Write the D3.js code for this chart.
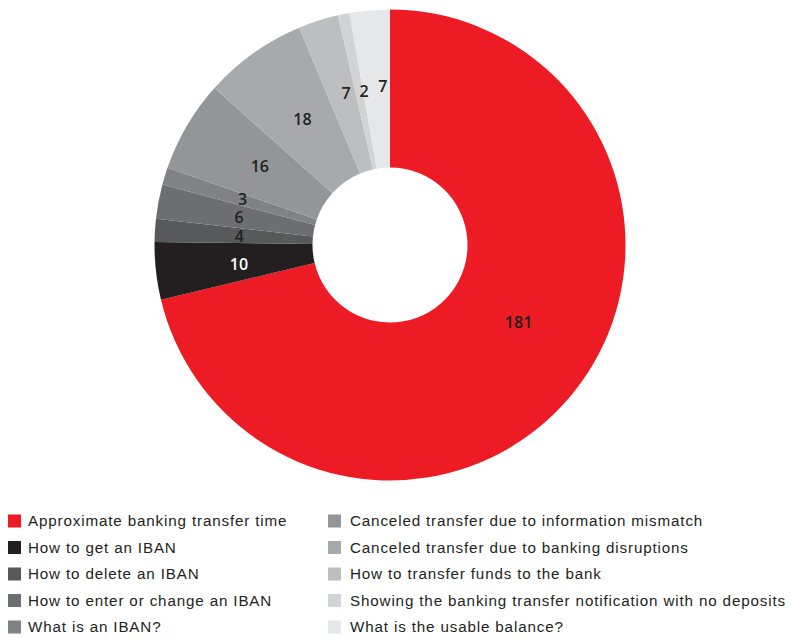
<!DOCTYPE html>
<html>
<head>
<meta charset="utf-8">
<script src="https://cdn.jsdelivr.net/npm/d3@7"></script>
<style>
  html, body { margin: 0; padding: 0; background: #fff; }
  svg { display: block; }
</style>
</head>
<body>
<svg id="chart" width="791" height="638"></svg>
<script>
// Topics of support requests and their counts
const categories = [
  "Approximate banking transfer time",
  "How to get an IBAN",
  "How to delete an IBAN",
  "How to enter or change an IBAN",
  "What is an IBAN?",
  "Canceled transfer due to information mismatch",
  "Canceled transfer due to banking disruptions",
  "How to transfer funds to the bank",
  "Showing the banking transfer notification with no deposits",
  "What is the usable balance?"
];
const values = [181, 10, 4, 6, 3, 16, 18, 7, 2, 7];
const colors = ["#ED1C24", "#231F20", "#58595B", "#6D6E71", "#808285",
                "#939598", "#A7A9AC", "#BCBEC0", "#D1D3D4", "#E6E7E8"];
const labelColors = ["#231F20", "#FFFFFF", "#231F20", "#231F20", "#231F20",
                     "#231F20", "#231F20", "#231F20", "#231F20", "#231F20"];

// Hand-tuned shifts of the value labels away from their slice centroids
const labelNudge = [[10, -16], [-1, 2], [0, 0.5], [-2.5, 0], [-3, -1.5],
                    [0, -2.5], [0, -2.7], [2, -7.7], [3.7, -6.2], [5.8, -8.6]];

const data = categories.map((c, i) => ({
  name: c, value: values[i], color: colors[i],
  labelColor: labelColors[i], nudge: labelNudge[i]
}));

const svg = d3.select("#chart");
const cx = 390, cy = 245;
const outerR = 235.5, innerR = 77.5, labelR = 151;

const pie = d3.pie().value(d => d.value).sort(null);
const arc = d3.arc().innerRadius(innerR).outerRadius(outerR);
const labelArc = d3.arc().innerRadius(labelR).outerRadius(labelR);

const g = svg.append("g").attr("transform", `translate(${cx},${cy})`);
const arcs = pie(data);

g.selectAll("path.slice")
  .data(arcs)
  .join("path")
  .attr("class", "slice")
  .attr("d", arc)
  .attr("fill", d => d.data.color);

g.selectAll("text.val")
  .data(arcs)
  .join("text")
  .attr("class", "val")
  .attr("transform", d => {
    const [x, y] = labelArc.centroid(d);
    return `translate(${x + d.data.nudge[0]},${y + d.data.nudge[1]})`;
  })
  .attr("text-anchor", "middle")
  .attr("dy", "0.36em")
  .attr("font-family", "'Open Sans', sans-serif")
  .attr("font-weight", 600)
  .attr("font-size", 16)
  .attr("fill", d => d.data.labelColor)
  .text(d => d.data.value);

// Legend: two columns of five entries
const legend = svg.append("g");
const colX = [8, 328];
const textX = [20, 22];
const rowY = [521, 547.5, 574, 600.5, 627];
const items = legend.selectAll("g.item")
  .data(data)
  .join("g")
  .attr("class", "item")
  .attr("transform", (d, i) => `translate(${colX[Math.floor(i / 5)]},${rowY[i % 5]})`);

items.append("rect")
  .attr("x", 0).attr("y", -6.5)
  .attr("width", 13).attr("height", 13)
  .attr("fill", d => d.color);

items.append("text")
  .attr("x", (d, i) => textX[Math.floor(i / 5)])
  .attr("dy", "0.35em")
  .attr("font-family", "'Liberation Sans', Arial, sans-serif")
  .attr("font-size", 15.2)
  .attr("letter-spacing", 0.85)
  .attr("fill", "#231F20")
  .text(d => d.name);
</script>
</body>
</html>
